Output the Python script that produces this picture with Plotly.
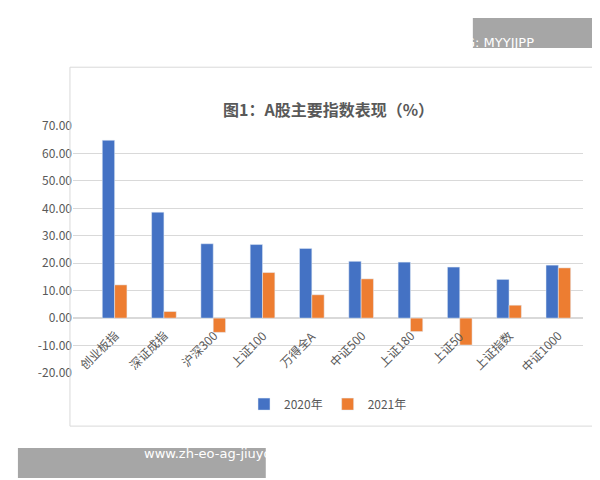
import plotly.graph_objects as go

categories = ["创业板指", "深证成指", "沪深300", "上证100", "万得全A", "中证500", "上证180", "上证50", "上证指数", "中证1000"]
y2020 = [64.8, 38.6, 27.1, 26.8, 25.4, 20.7, 20.4, 18.6, 14.1, 19.3]
y2021 = [12.1, 2.4, -5.2, 16.6, 8.5, 14.3, -4.9, -9.8, 4.7, 18.3]
tick_vals = [-20, -10, 0, 10, 20, 30, 40, 50, 60, 70]
tick_text = ["-20.00", "-10.00", "0.00", "10.00", "20.00", "30.00", "40.00", "50.00", "60.00", "70.00"]

fig = go.Figure()
fig.add_bar(x=categories, y=y2020, name="2020年", marker_color="#4472C4")
fig.add_bar(x=categories, y=y2021, name="2021年", marker_color="#ED7D31")

anns = [
    dict(text="<b>图1：A股主要指数表现（%）</b>", xref="paper", yref="paper", x=0.5, y=1.125,
         showarrow=False, font=dict(size=16, color="#595959")),
    dict(text="TG: MYYJJPP", xref="paper", yref="paper", x=0.907, y=1.376,
         showarrow=False, font=dict(size=13, color="white", family="DejaVu Sans")),
    dict(text="www.zh-eo-ag-jiuyouhui.com", xref="paper", yref="paper", x=0.135, y=-0.364,
         showarrow=False, font=dict(size=13, color="white", family="DejaVu Sans")),
]
for c in categories:
    anns.append(dict(text=c, x=c, y=0, xref="x", yref="y", showarrow=False, textangle=-45,
                     xanchor="right", yanchor="top", xshift=10, yshift=-6,
                     font=dict(size=12, color="#595959")))

fig.update_layout(
    width=600, height=480, paper_bgcolor="white", plot_bgcolor="white",
    font=dict(family="Noto Sans CJK SC", size=12, color="#595959"),
    bargap=0.5, bargroupgap=0.0,
    margin=dict(l=65, r=25, t=118, b=115),
    legend=dict(orientation="h", x=0.5, xanchor="center", y=-0.126, yanchor="middle", font=dict(size=12)),
    shapes=[
        dict(type="rect", xref="paper", yref="paper", x0=-0.006, x1=1.02, y0=-0.215, y1=1.238,
             line=dict(color="#D9D9D9", width=1)),
        dict(type="rect", xref="paper", yref="paper", x0=0.784, x1=1.029, y0=1.316, y1=1.437,
             fillcolor="#A6A6A6", line=dict(width=0)),
        dict(type="rect", xref="paper", yref="paper", x0=-0.108, x1=0.378, y0=-0.425, y1=-0.304,
             fillcolor="#A6A6A6", line=dict(width=0)),
    ],
    annotations=anns,
)
fig.update_yaxes(range=[-20, 70], tickvals=tick_vals, ticktext=tick_text, showgrid=True,
                 gridcolor="#D9D9D9", zeroline=True, zerolinecolor="#D9D9D9", ticks="", showline=False)
fig.update_xaxes(showticklabels=False, showline=False, ticks="")
fig.write_html("out.html")
